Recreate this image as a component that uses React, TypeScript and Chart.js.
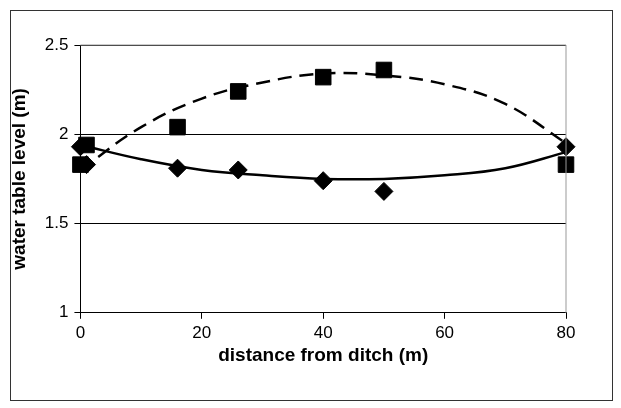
import { useEffect, useRef } from "react";
import { Chart, registerables } from "chart.js";

Chart.register(...registerables);

const diamondX = [0, 1, 16, 26, 40, 50, 80];
const diamondY = [1.93, 1.83, 1.81, 1.8, 1.74, 1.68, 1.93];
const squareX = [0, 1, 16, 26, 40, 50, 80];
const squareY = [1.83, 1.94, 2.04, 2.24, 2.32, 2.36, 1.83];
const trendX = [0, 10, 20, 30, 40, 50, 60, 70, 80];
const solidTrend = [1.94, 1.86, 1.8, 1.77, 1.75, 1.75, 1.77, 1.81, 1.9];
const dashTrend = [1.8, 2.04, 2.2, 2.29, 2.34, 2.33, 2.28, 2.17, 1.95];

const pts = (xs: number[], ys: number[]) => xs.map((x, i) => ({ x, y: ys[i] }));

export default function App() {
  const canvasRef = useRef<HTMLCanvasElement>(null);

  useEffect(() => {
    if (!canvasRef.current) return;
    const font = { family: "Liberation Sans, Arial", size: 17 };
    const titleFont = { family: "Liberation Sans, Arial", size: 19, weight: "bold" as const };
    const chart = new Chart(canvasRef.current, {
      type: "scatter",
      data: {
        datasets: [
          {
            type: "line",
            data: pts(trendX, solidTrend),
            borderColor: "#000",
            borderWidth: 2.5,
            pointRadius: 0,
            tension: 0.4,
            clip: false,
          },
          {
            type: "line",
            data: pts(trendX, dashTrend),
            borderColor: "#000",
            borderWidth: 2.5,
            borderDash: [14, 8],
            pointRadius: 0,
            tension: 0.4,
            clip: false,
          },
          {
            data: pts(diamondX, diamondY),
            pointStyle: "rectRot",
            pointRadius: 9,
            backgroundColor: "#000",
            borderColor: "#000",
            clip: false,
          },
          {
            data: pts(squareX, squareY),
            pointStyle: "rect",
            pointRadius: 11,
            backgroundColor: "#000",
            borderColor: "#000",
            clip: false,
          },
        ],
      },
      options: {
        responsive: false,
        animation: false,
        layout: { padding: { left: 8, right: 55, top: 45, bottom: 41 } },
        plugins: { legend: { display: false }, tooltip: { enabled: false } },
        scales: {
          x: {
            min: 0,
            max: 80,
            ticks: { stepSize: 20, color: "#000", font, padding: 4 },
            grid: { drawOnChartArea: false, color: "#000", tickLength: 6 },
            border: { color: "#000" },
            title: { display: true, text: "distance from ditch (m)", color: "#000", font: titleFont, padding: { top: -3, bottom: 0 } },
          },
          y: {
            min: 1,
            max: 2.5,
            ticks: { stepSize: 0.5, color: "#000", font, padding: 6, callback: (v) => String(v) },
            grid: { color: "#000", tickLength: 6 },
            border: { color: "#000" },
            title: { display: true, text: "water table level (m)", color: "#000", font: titleFont, padding: { top: 0, bottom: 8 } },
          },
        },
      },
      plugins: [
        {
          id: "frame",
          afterDraw(c) {
            const { ctx, chartArea: a } = c;
            ctx.save();
            ctx.strokeStyle = "#999";
            ctx.lineWidth = 1;
            ctx.beginPath();
            ctx.moveTo(a.left, a.top);
            ctx.lineTo(a.right, a.top);
            ctx.lineTo(a.right, a.bottom);
            ctx.stroke();
            ctx.restore();
          },
        },
      ],
    });
    return () => chart.destroy();
  }, []);

  return (
    <div style={{ position: "absolute", left: 0, top: 0, width: 621, height: 408, background: "#fff" }}>
      <div style={{ position: "absolute", left: 10, top: 10, width: 601, height: 389, border: "1.5px solid #333" }} />
      <canvas ref={canvasRef} width={621} height={408} style={{ position: "absolute", left: 0, top: 0 }} />
    </div>
  );
}
